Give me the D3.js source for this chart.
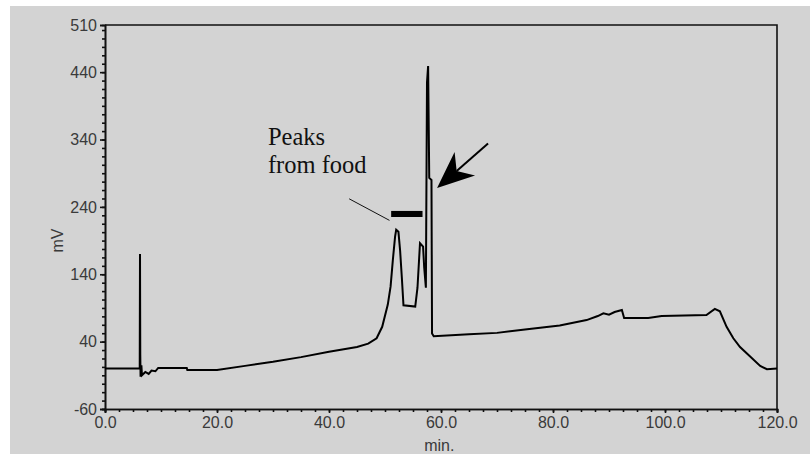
<!DOCTYPE html>
<html>
<head>
<meta charset="utf-8">
<script src="https://cdn.jsdelivr.net/npm/d3@7"></script>
<style>
  body { margin: 0; background: #fff; }
  svg { display: block; }
</style>
</head>
<body>
<div id="chart"></div>
<script>
// retention time (min) and detector signal (mV)
const times = [0, 6.2, 6.25, 6.3, 6.35, 6.5, 6.6, 7.2, 7.8, 8.3, 9.0, 9.5, 14.6, 14.7, 20,
  25, 30, 35, 40, 45, 47, 48.5, 49.5, 50.5, 51.0, 51.4, 51.8, 52.0, 52.4, 52.7, 53.0, 53.3,
  55.4, 55.8, 56.25, 56.8, 57.0, 57.3, 57.5, 57.7, 57.9, 58.3, 58.4, 58.7,
  65, 70, 75, 81.2, 86, 88, 89, 90, 91, 92.3, 92.7, 97, 99.4, 107.4, 108.9, 109.8,
  111, 112.2, 113.4, 117, 118.2, 120];
const mv = [0, 0, 170, 20, -12, 5, -10, -5, -8, -3, -4, 1, 1, -2, -2,
  4, 10, 17, 25, 32, 37, 45, 62, 95, 122, 161, 196, 206, 203, 175, 136, 94,
  92, 120, 186, 181, 150, 120, 425, 449, 283, 280, 52, 48,
  51, 53, 58, 64, 72, 78, 82, 80, 84, 87, 75, 75, 78, 79.5, 88.5, 85,
  62, 45, 32, 4, -1, 0];
const trace = times.map((t, i) => ({ t: t, v: mv[i] }));

const yMajor = [-60, 40, 140, 240, 340, 440, 510];
const xMajor = [0, 20, 40, 60, 80, 100, 120];

const W = 810, H = 454;
const margin = { top: 25, right: 33, bottom: 45, left: 105 };
const width = W - margin.left - margin.right;
const height = H - margin.top - margin.bottom;

const svg = d3.select("#chart").append("svg")
    .attr("width", W)
    .attr("height", H);

// grey panel
svg.append("rect")
    .attr("x", 10).attr("y", 6)
    .attr("width", W - 10).attr("height", H - 6)
    .attr("fill", "#d3d3d3");

const g = svg.append("g")
    .attr("transform", `translate(${margin.left},${margin.top})`);

const x = d3.scaleLinear().domain([0, 120]).range([0, width]);
const y = d3.scaleLinear().domain([-60, 510]).range([height, 0]);

// frame top + right
g.append("path")
    .attr("d", `M0,0H${width}V${height}`)
    .attr("fill", "none")
    .attr("stroke", "#111")
    .attr("stroke-width", 1.6);

// minor ticks
const yMinor = d3.range(-60, 510, 12.5);
const xMinor = d3.range(0, 120.01, 2.5);

g.append("g")
    .call(d3.axisLeft(y).tickValues(yMinor).tickSize(3).tickFormat(""));
g.append("g")
    .attr("transform", `translate(0,${height})`)
    .call(d3.axisBottom(x).tickValues(xMinor).tickSize(3).tickFormat(""));

// major axes
g.append("g")
    .call(d3.axisLeft(y).tickValues(yMajor).tickSize(5).tickPadding(3).tickFormat(d => String(d)));
g.append("g")
    .attr("transform", `translate(0,${height})`)
    .call(d3.axisBottom(x).tickValues(xMajor).tickSize(4).tickPadding(4).tickFormat(d => d.toFixed(1)));

g.selectAll(".domain").attr("stroke", "#111").attr("stroke-width", 1.6);
g.selectAll(".tick line").attr("stroke", "#111").attr("stroke-width", 1.6);
g.selectAll(".tick text")
    .attr("font-family", "Liberation Sans, Arial, sans-serif")
    .attr("font-size", 16)
    .attr("fill", "#3a3a3a");

// axis titles
svg.append("text")
    .attr("transform", `translate(63,${margin.top + y(190)}) rotate(-90)`)
    .attr("text-anchor", "middle")
    .attr("font-family", "Liberation Sans, Arial, sans-serif")
    .attr("font-size", 16)
    .attr("fill", "#3a3a3a")
    .text("mV");
svg.append("text")
    .attr("x", margin.left + x(59.7))
    .attr("y", 451)
    .attr("text-anchor", "middle")
    .attr("font-family", "Liberation Sans, Arial, sans-serif")
    .attr("font-size", 16)
    .attr("fill", "#3a3a3a")
    .text("min.");

// trace
const line = d3.line()
    .x(d => x(d.t))
    .y(d => y(d.v));

g.append("path")
    .datum(trace)
    .attr("d", line)
    .attr("fill", "none")
    .attr("stroke", "#000")
    .attr("stroke-width", 2)
    .attr("stroke-linejoin", "miter");

// annotation
const ann = g.append("g").attr("font-family", "Liberation Serif, Times New Roman, serif")
    .attr("font-size", 24.5).attr("fill", "#111");
ann.append("text").attr("x", x(29.1)).attr("y", 120).text("Peaks");
ann.append("text").attr("x", x(29.1)).attr("y", 148).text("from food");

g.append("line")
    .attr("x1", x(43.6)).attr("y1", y(252))
    .attr("x2", x(50.8)).attr("y2", y(220))
    .attr("stroke", "#111").attr("stroke-width", 1);

g.append("rect")
    .attr("x", x(51.1)).attr("y", y(234))
    .attr("width", x(56.7) - x(51.1)).attr("height", y(225) - y(234))
    .attr("fill", "#000");

// arrow
const tip = [x(59.3), y(268)];
const tail = [x(68.4), y(334)];
const ang = Math.atan2(tail[1] - tip[1], tail[0] - tip[0]);
const pt = (len, da) => [tip[0] + len * Math.cos(ang + da), tip[1] + len * Math.sin(ang + da)];
const b1 = pt(40, -0.4), b2 = pt(40, 0.4), notch = pt(26, 0);

g.append("line")
    .attr("x1", notch[0]).attr("y1", notch[1])
    .attr("x2", tail[0]).attr("y2", tail[1])
    .attr("stroke", "#000").attr("stroke-width", 2);
g.append("path")
    .attr("d", `M${tip}L${b1}L${notch}L${b2}Z`)
    .attr("fill", "#000");
</script>
</body>
</html>
